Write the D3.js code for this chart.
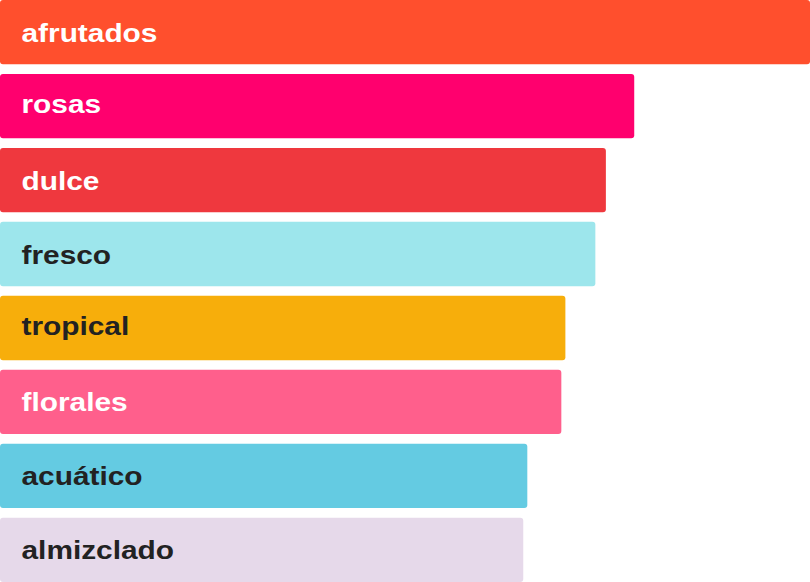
<!DOCTYPE html>
<html>
<head>
<meta charset="utf-8">
<script src="https://cdn.jsdelivr.net/npm/d3@7"></script>
<style>
  body { margin: 0; background: #fff; }
  text { font-family: "Liberation Sans", Arial, sans-serif; font-weight: bold; }
</style>
</head>
<body>
<svg id="chart" width="810" height="582"></svg>
<script>
// scent notes, ranked by value
const categories = ['afrutados', 'rosas', 'dulce', 'fresco', 'tropical', 'florales', 'acuático', 'almizclado']
const values = [100, 78.3, 74.8, 73.5, 69.8, 69.3, 65.1, 64.6]
const colors = ['#ff4f2d', '#ff006e', '#ef383e', '#9de6ec', '#f7ae0b', '#ff5f8c', '#64cbe2', '#e6d9ea']
const labelColors = ['#fff', '#fff', '#fff', '#222', '#222', '#fff', '#222', '#222']

const svg = d3.select('#chart')
const width = +svg.attr('width')
const height = +svg.attr('height')
const fontSize = 25.5
const stretch = 1.17

const x = d3.scaleLinear().domain([0, d3.max(values)]).range([0, width])
const y = d3.scaleBand().domain(categories).range([0, height]).paddingInner(0.13).paddingOuter(0)

// labels are centred on their ink, so measure it with a canvas
const ctx = document.createElement('canvas').getContext('2d')
ctx.font = 'bold ' + fontSize + 'px "Liberation Sans", Arial, sans-serif'
const inkShift = (s) => {
  const m = ctx.measureText(s)
  return (m.actualBoundingBoxAscent - m.actualBoundingBoxDescent) / 2
}

const data = categories.map((c, i) => ({ name: c, value: values[i], color: colors[i], label: labelColors[i] }))

const bar = svg.selectAll('.bar')
  .data(data)
  .enter()
  .append('g')
  .attr('class', 'bar')
  .attr('transform', (d) => 'translate(0,' + y(d.name) + ')')

bar.append('rect')
  .attr('x', x(0))
  .attr('width', (d) => x(d.value) - x(0))
  .attr('height', y.bandwidth())
  .attr('rx', 3)
  .attr('fill', (d) => d.color)

bar.append('text')
  .attr('transform', (d) => 'translate(21.5,' + (y.bandwidth() / 2 + inkShift(d.name)) + ') scale(' + stretch + ',1)')
  .attr('font-size', fontSize)
  .attr('fill', (d) => d.label)
  .text((d) => d.name)
</script>
</body>
</html>
